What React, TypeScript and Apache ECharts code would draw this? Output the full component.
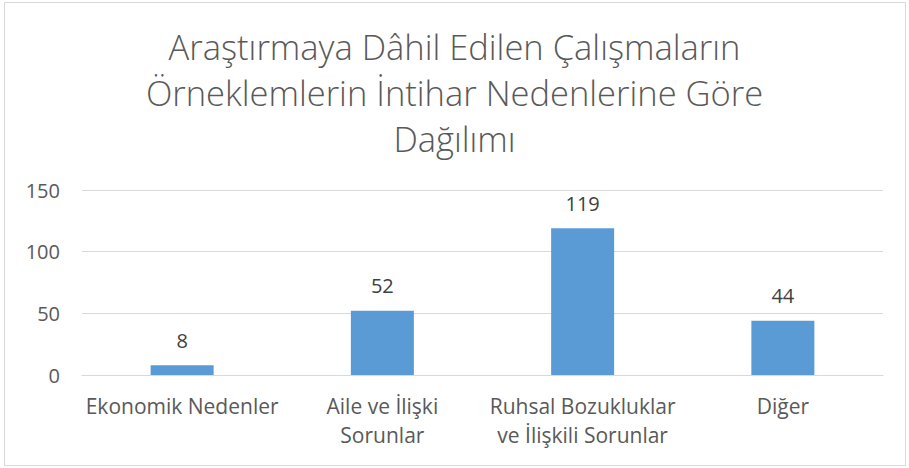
import React, { useEffect, useRef } from "react";
import * as echarts from "echarts";

const titleText = "Araştırmaya Dâhil Edilen Çalışmaların\nÖrneklemlerin İntihar Nedenlerine Göre\nDağılımı";
const categories = [
  "Ekonomik Nedenler",
  "Aile ve İlişki\nSorunlar",
  "Ruhsal Bozukluklar\nve İlişkili Sorunlar",
  "Diğer",
];
const values = [8, 52, 119, 44];
const yTicks = { min: 0, max: 150, interval: 50 };

export default function App() {
  const ref = useRef<HTMLDivElement>(null);
  useEffect(() => {
    document.body.style.margin = "0";
    const chart = echarts.init(ref.current!, null, { renderer: "svg" });
    const font = "'Open Sans', 'Noto Sans', sans-serif";
    chart.setOption({
      animation: false,
      backgroundColor: "#ffffff",
      textStyle: { fontFamily: font },
      title: {
        text: titleText,
        left: "center",
        top: 18,
        textStyle: {
          fontFamily: font,
          fontSize: 34.5,
          fontWeight: 300,
          color: "#595959",
          lineHeight: 46,
        },
      },
      graphic: [
        {
          type: "rect",
          shape: { x: 4.5, y: 2.5, width: 901, height: 463 },
          style: { fill: "none", stroke: "#d9d9d9", lineWidth: 1 },
          silent: true,
        },
      ],
      grid: { left: 82, right: 26, top: 190, bottom: 93, containLabel: false },
      xAxis: {
        type: "category",
        data: categories,
        axisLine: { show: true, lineStyle: { color: "#d9d9d9" } },
        axisTick: { show: false },
        axisLabel: {
          interval: 0,
          margin: 16,
          fontFamily: font,
          fontSize: 21,
          lineHeight: 29,
          color: "#595959",
        },
      },
      yAxis: {
        type: "value",
        min: yTicks.min,
        max: yTicks.max,
        interval: yTicks.interval,
        axisLine: { show: false },
        axisTick: { show: false },
        splitLine: { lineStyle: { color: "#d9d9d9" } },
        axisLabel: {
          margin: 22,
          fontFamily: font,
          fontSize: 20,
          color: "#595959",
        },
      },
      series: [
        {
          type: "bar",
          data: values,
          barWidth: 63,
          itemStyle: { color: "#5b9bd5" },
          label: {
            show: true,
            position: "top",
            distance: 15,
            fontFamily: font,
            fontSize: 20,
            color: "#404040",
          },
        },
      ],
    });
    return () => chart.dispose();
  }, []);
  return <div ref={ref} style={{ width: 909, height: 468 }} />;
}
